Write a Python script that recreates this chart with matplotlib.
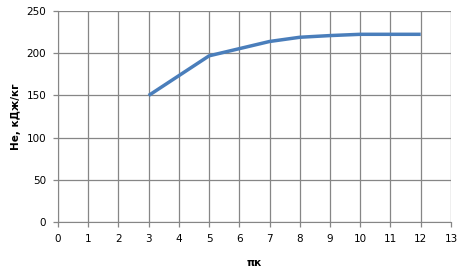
import numpy as np
import matplotlib.pyplot as plt

# степень повышения давления и удельная работа
pk = [3, 4, 5, 6, 7, 8, 9, 10, 11, 12]
He = [150, 173.5, 197, 205.5, 214, 219, 221, 222.5, 222.5, 222.5]

fig = plt.figure(figsize=(4.58, 2.69), dpi=100)
ax = fig.add_axes([0.1266, 0.1747, 0.858, 0.784])

ax.plot(pk, He, color='#4a7ebb', lw=2.5, solid_capstyle='butt')

ax.set_xlim(0, 13)
ax.set_ylim(0, 250)
ax.set_xticks(np.arange(0, 14, 1))
ax.set_yticks(np.arange(0, 251, 50))
ax.grid(True, color='#868686', lw=0.9)
ax.set_axisbelow(True)
for s in ['top', 'right']:
    ax.spines[s].set_visible(False)
for s in ['left', 'bottom']:
    ax.spines[s].set_color('#868686')
ax.tick_params(colors='#868686', labelcolor='black', labelsize=7.5, length=3.5, width=0.9, pad=5)

ax.set_ylabel("Не, кДж/кг", fontsize=7.5, fontweight='bold', labelpad=4)
ax.set_xlabel("πк", fontsize=7.5, fontweight='bold', labelpad=10)

plt.savefig('out.png', dpi=100)
